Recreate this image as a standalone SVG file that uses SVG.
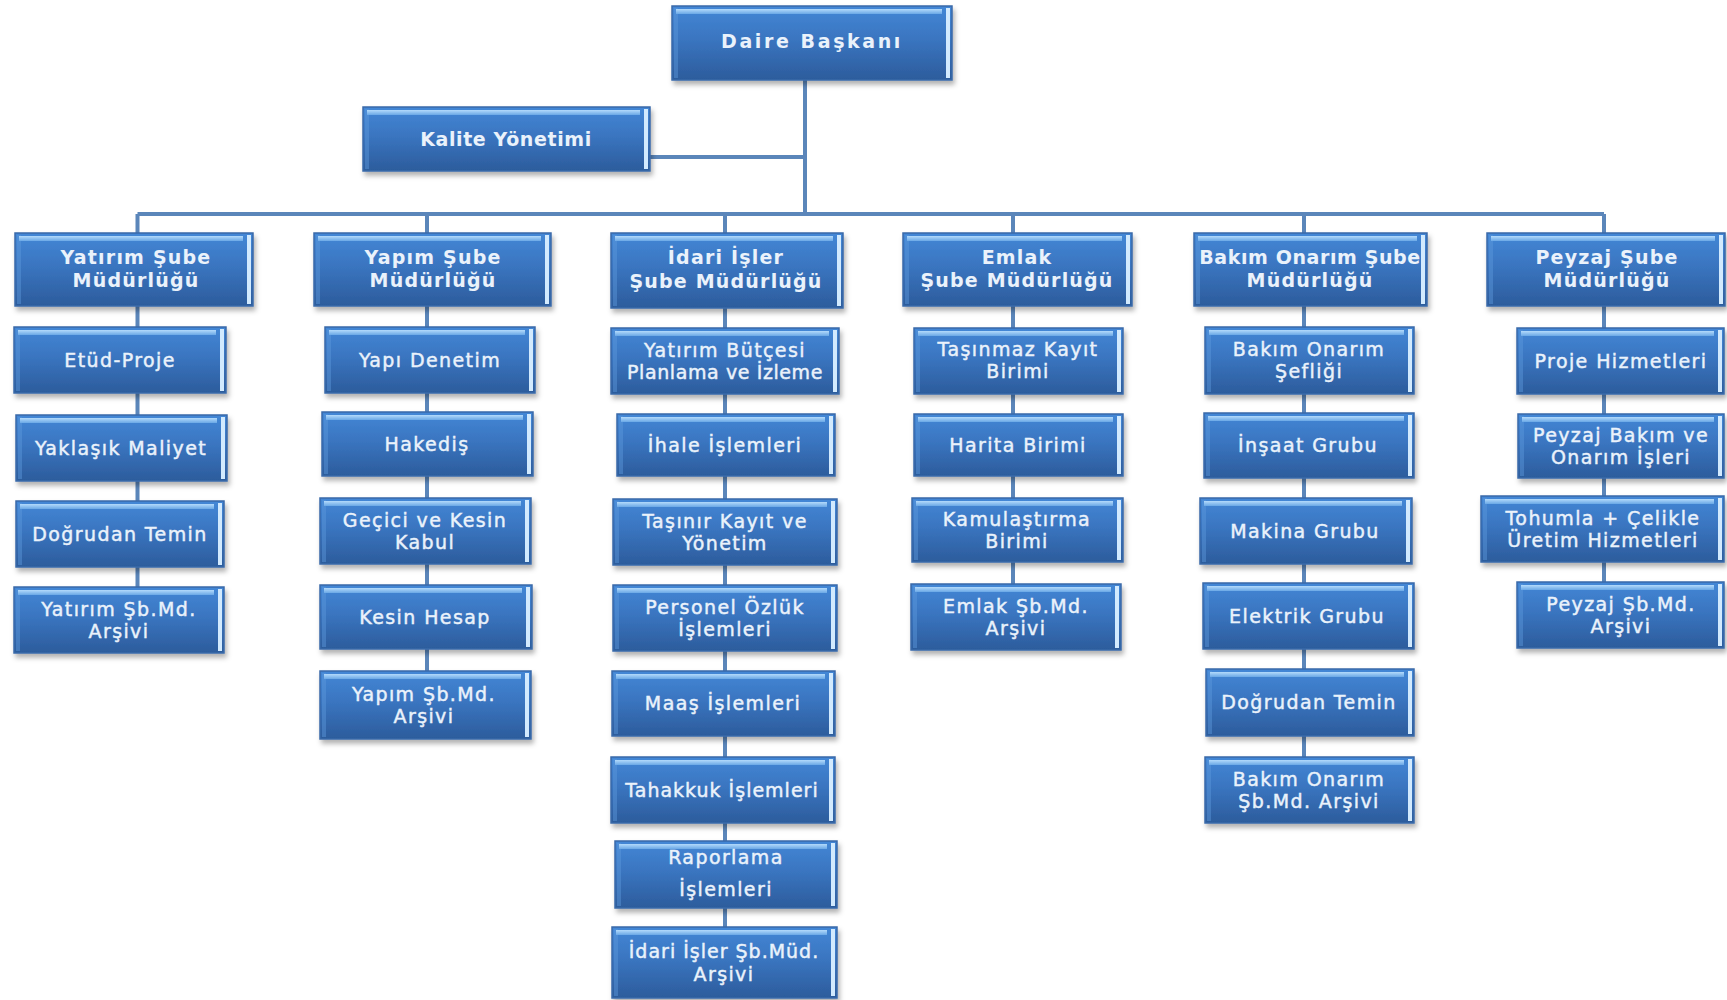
<svg xmlns="http://www.w3.org/2000/svg" width="1727" height="1000" viewBox="0 0 1727 1000">
<defs>
<linearGradient id="g" x1="0" y1="0" x2="0" y2="1">
<stop offset="0" stop-color="#4387d6"/>
<stop offset="0.45" stop-color="#3a75c0"/>
<stop offset="1" stop-color="#2c5c9c"/>
</linearGradient>
<linearGradient id="tg" x1="0" y1="0" x2="0" y2="1">
<stop offset="0" stop-color="#b3dafb"/>
<stop offset="1" stop-color="#6aa8e6"/>
</linearGradient>
<filter id="sh" x="-10%" y="-10%" width="125%" height="135%">
<feDropShadow dx="2" dy="4" stdDeviation="2.5" flood-color="#000" flood-opacity="0.3"/>
</filter>
<style>
.bx{fill:url(#g);stroke:#3a6aa9;stroke-width:1.5;filter:url(#sh)}
.tp{fill:url(#tg)}
.rt{fill:#d2eafe}
.lf{fill:#5e98dc;opacity:.45}
.t{font-family:"DejaVu Sans","Liberation Sans",sans-serif;font-size:19px;fill:#eaf2fb;stroke:#eaf2fb;stroke-width:0.45px;text-anchor:middle;letter-spacing:1.4px}
.b{font-weight:bold;stroke-width:0;letter-spacing:1.2px}
.cn{stroke:#5b86ba;stroke-width:4;fill:none}
</style>
</defs>
<rect width="1727" height="1000" fill="#ffffff"/>

<g id="connectors">
<path class="cn" d="M805 80V214M650 157H805M137.5 214H1604"/>
<path class="cn" d="M137.5 214V587M427 214V671M725 214V927M1013 214V584M1304 214V757M1604 214V582"/>
</g>

<g id="n-daire"><rect class="bx" x="672" y="6" width="280" height="74"/><rect class="lf" x="674" y="8" width="4" height="70"/><rect class="tp" x="676" y="9" width="266" height="5"/><rect class="rt" x="946" y="8" width="4" height="70"/><text class="t b" x="812" y="48" style="letter-spacing:2.6px">Daire Başkanı</text></g>
<g id="n-kalite"><rect class="bx" x="363" y="107" width="287" height="64"/><rect class="lf" x="365" y="109" width="4" height="60"/><rect class="tp" x="367" y="110" width="273" height="5"/><rect class="rt" x="644" y="109" width="4" height="60"/><text class="t b" x="506" y="146" style="letter-spacing:0.6px">Kalite Yönetimi</text></g>

<g id="h-yatirim"><rect class="bx" x="15" y="233" width="238" height="73"/><rect class="lf" x="17" y="235" width="4" height="69"/><rect class="tp" x="19" y="236" width="224" height="5"/><rect class="rt" x="247" y="235" width="4" height="69"/><text class="t b"><tspan x="136" y="264">Yatırım Şube</tspan><tspan x="136" y="287">Müdürlüğü</tspan></text></g>
<g id="h-yapim"><rect class="bx" x="314" y="233" width="237" height="73"/><rect class="lf" x="316" y="235" width="4" height="69"/><rect class="tp" x="318" y="236" width="223" height="5"/><rect class="rt" x="545" y="235" width="4" height="69"/><text class="t b"><tspan x="433" y="264">Yapım Şube</tspan><tspan x="433" y="287">Müdürlüğü</tspan></text></g>
<g id="h-idari"><rect class="bx" x="611" y="233" width="232" height="75"/><rect class="lf" x="613" y="235" width="4" height="71"/><rect class="tp" x="615" y="236" width="218" height="5"/><rect class="rt" x="837" y="235" width="4" height="71"/><text class="t b"><tspan x="726" y="264">İdari İşler</tspan><tspan x="726" y="288">Şube Müdürlüğü</tspan></text></g>
<g id="h-emlak"><rect class="bx" x="903" y="233" width="229" height="73"/><rect class="lf" x="905" y="235" width="4" height="69"/><rect class="tp" x="907" y="236" width="215" height="5"/><rect class="rt" x="1126" y="235" width="4" height="69"/><text class="t b"><tspan x="1017" y="264">Emlak</tspan><tspan x="1017" y="287">Şube Müdürlüğü</tspan></text></g>
<g id="h-bakim"><rect class="bx" x="1194" y="233" width="233" height="73"/><rect class="lf" x="1196" y="235" width="4" height="69"/><rect class="tp" x="1198" y="236" width="219" height="5"/><rect class="rt" x="1421" y="235" width="4" height="69"/><text class="t b"><tspan x="1310" y="264" style="letter-spacing:0.6px">Bakım Onarım Şube</tspan><tspan x="1310" y="287">Müdürlüğü</tspan></text></g>
<g id="h-peyzaj"><rect class="bx" x="1487" y="233" width="238" height="73"/><rect class="lf" x="1489" y="235" width="4" height="69"/><rect class="tp" x="1491" y="236" width="224" height="5"/><rect class="rt" x="1719" y="235" width="4" height="69"/><text class="t b"><tspan x="1607" y="264">Peyzaj Şube</tspan><tspan x="1607" y="287">Müdürlüğü</tspan></text></g>

<g id="c1-etud"><rect class="bx" x="14" y="327" width="212" height="66"/><rect class="lf" x="16" y="329" width="4" height="62"/><rect class="tp" x="18" y="330" width="198" height="5"/><rect class="rt" x="220" y="329" width="4" height="62"/><text class="t" x="120" y="367">Etüd-Proje</text></g>
<g id="c1-maliyet"><rect class="bx" x="16" y="415" width="211" height="66"/><rect class="lf" x="18" y="417" width="4" height="62"/><rect class="tp" x="20" y="418" width="197" height="5"/><rect class="rt" x="221" y="417" width="4" height="62"/><text class="t" x="121" y="455">Yaklaşık Maliyet</text></g>
<g id="c1-temin"><rect class="bx" x="16" y="501" width="208" height="66"/><rect class="lf" x="18" y="503" width="4" height="62"/><rect class="tp" x="20" y="504" width="194" height="5"/><rect class="rt" x="218" y="503" width="4" height="62"/><text class="t" x="120" y="541">Doğrudan Temin</text></g>
<g id="c1-arsiv"><rect class="bx" x="14" y="587" width="210" height="66"/><rect class="lf" x="16" y="589" width="4" height="62"/><rect class="tp" x="18" y="590" width="196" height="5"/><rect class="rt" x="218" y="589" width="4" height="62"/><text class="t"><tspan x="119" y="616">Yatırım Şb.Md.</tspan><tspan x="119" y="638">Arşivi</tspan></text></g>

<g id="c2-denetim"><rect class="bx" x="325" y="327" width="210" height="66"/><rect class="lf" x="327" y="329" width="4" height="62"/><rect class="tp" x="329" y="330" width="196" height="5"/><rect class="rt" x="529" y="329" width="4" height="62"/><text class="t" x="430" y="367">Yapı Denetim</text></g>
<g id="c2-hakedis"><rect class="bx" x="322" y="412" width="211" height="64"/><rect class="lf" x="324" y="414" width="4" height="60"/><rect class="tp" x="326" y="415" width="197" height="5"/><rect class="rt" x="527" y="414" width="4" height="60"/><text class="t" x="427" y="451">Hakediş</text></g>
<g id="c2-kabul"><rect class="bx" x="320" y="498" width="211" height="66"/><rect class="lf" x="322" y="500" width="4" height="62"/><rect class="tp" x="324" y="501" width="197" height="5"/><rect class="rt" x="525" y="500" width="4" height="62"/><text class="t"><tspan x="425" y="527">Geçici ve Kesin</tspan><tspan x="425" y="549">Kabul</tspan></text></g>
<g id="c2-hesap"><rect class="bx" x="320" y="585" width="212" height="64"/><rect class="lf" x="322" y="587" width="4" height="60"/><rect class="tp" x="324" y="588" width="198" height="5"/><rect class="rt" x="526" y="587" width="4" height="60"/><text class="t" x="425" y="624">Kesin Hesap</text></g>
<g id="c2-arsiv"><rect class="bx" x="320" y="671" width="211" height="68"/><rect class="lf" x="322" y="673" width="4" height="64"/><rect class="tp" x="324" y="674" width="197" height="5"/><rect class="rt" x="525" y="673" width="4" height="64"/><text class="t"><tspan x="424" y="701">Yapım Şb.Md.</tspan><tspan x="424" y="723">Arşivi</tspan></text></g>

<g id="c3-butce"><rect class="bx" x="611" y="328" width="228" height="66"/><rect class="lf" x="613" y="330" width="4" height="62"/><rect class="tp" x="615" y="331" width="214" height="5"/><rect class="rt" x="833" y="330" width="4" height="62"/><text class="t"><tspan x="725" y="357">Yatırım Bütçesi</tspan><tspan x="725" y="379" style="letter-spacing:0.6px">Planlama ve İzleme</tspan></text></g>
<g id="c3-ihale"><rect class="bx" x="617" y="414" width="218" height="62"/><rect class="lf" x="619" y="416" width="4" height="58"/><rect class="tp" x="621" y="417" width="204" height="5"/><rect class="rt" x="829" y="416" width="4" height="58"/><text class="t" x="725" y="452">İhale İşlemleri</text></g>
<g id="c3-tasinir"><rect class="bx" x="613" y="499" width="224" height="66"/><rect class="lf" x="615" y="501" width="4" height="62"/><rect class="tp" x="617" y="502" width="210" height="5"/><rect class="rt" x="831" y="501" width="4" height="62"/><text class="t"><tspan x="725" y="528">Taşınır Kayıt ve</tspan><tspan x="725" y="550">Yönetim</tspan></text></g>
<g id="c3-personel"><rect class="bx" x="613" y="585" width="224" height="66"/><rect class="lf" x="615" y="587" width="4" height="62"/><rect class="tp" x="617" y="588" width="210" height="5"/><rect class="rt" x="831" y="587" width="4" height="62"/><text class="t"><tspan x="725" y="614">Personel Özlük</tspan><tspan x="725" y="636">İşlemleri</tspan></text></g>
<g id="c3-maas"><rect class="bx" x="612" y="671" width="223" height="65"/><rect class="lf" x="614" y="673" width="4" height="61"/><rect class="tp" x="616" y="674" width="209" height="5"/><rect class="rt" x="829" y="673" width="4" height="61"/><text class="t" x="723" y="710">Maaş İşlemleri</text></g>
<g id="c3-tahakkuk"><rect class="bx" x="611" y="757" width="224" height="66"/><rect class="lf" x="613" y="759" width="4" height="62"/><rect class="tp" x="615" y="760" width="210" height="5"/><rect class="rt" x="829" y="759" width="4" height="62"/><text class="t" x="722" y="797" style="letter-spacing:1px">Tahakkuk İşlemleri</text></g>
<g id="c3-rapor"><rect class="bx" x="615" y="841" width="222" height="67"/><rect class="lf" x="617" y="843" width="4" height="63"/><rect class="tp" x="619" y="844" width="208" height="5"/><rect class="rt" x="831" y="843" width="4" height="63"/><text class="t"><tspan x="726" y="864">Raporlama</tspan><tspan x="726" y="896">İşlemleri</tspan></text></g>
<g id="c3-arsiv"><rect class="bx" x="612" y="927" width="225" height="71"/><rect class="lf" x="614" y="929" width="4" height="67"/><rect class="tp" x="616" y="930" width="211" height="5"/><rect class="rt" x="831" y="929" width="4" height="67"/><text class="t"><tspan x="724" y="958" style="letter-spacing:1px">İdari İşler Şb.Müd.</tspan><tspan x="724" y="981">Arşivi</tspan></text></g>

<g id="c4-tasinmaz"><rect class="bx" x="914" y="328" width="209" height="66"/><rect class="lf" x="916" y="330" width="4" height="62"/><rect class="tp" x="918" y="331" width="195" height="5"/><rect class="rt" x="1117" y="330" width="4" height="62"/><text class="t"><tspan x="1018" y="356">Taşınmaz Kayıt</tspan><tspan x="1018" y="378">Birimi</tspan></text></g>
<g id="c4-harita"><rect class="bx" x="914" y="414" width="209" height="62"/><rect class="lf" x="916" y="416" width="4" height="58"/><rect class="tp" x="918" y="417" width="195" height="5"/><rect class="rt" x="1117" y="416" width="4" height="58"/><text class="t" x="1018" y="452">Harita Birimi</text></g>
<g id="c4-kamulastirma"><rect class="bx" x="912" y="498" width="211" height="64"/><rect class="lf" x="914" y="500" width="4" height="60"/><rect class="tp" x="916" y="501" width="197" height="5"/><rect class="rt" x="1117" y="500" width="4" height="60"/><text class="t"><tspan x="1017" y="526">Kamulaştırma</tspan><tspan x="1017" y="548">Birimi</tspan></text></g>
<g id="c4-arsiv"><rect class="bx" x="911" y="584" width="210" height="66"/><rect class="lf" x="913" y="586" width="4" height="62"/><rect class="tp" x="915" y="587" width="196" height="5"/><rect class="rt" x="1115" y="586" width="4" height="62"/><text class="t"><tspan x="1016" y="613">Emlak Şb.Md.</tspan><tspan x="1016" y="635">Arşivi</tspan></text></g>

<g id="c5-seflik"><rect class="bx" x="1205" y="327" width="209" height="67"/><rect class="lf" x="1207" y="329" width="4" height="63"/><rect class="tp" x="1209" y="330" width="195" height="5"/><rect class="rt" x="1408" y="329" width="4" height="63"/><text class="t"><tspan x="1309" y="356">Bakım Onarım</tspan><tspan x="1309" y="378">Şefliği</tspan></text></g>
<g id="c5-insaat"><rect class="bx" x="1204" y="413" width="210" height="65"/><rect class="lf" x="1206" y="415" width="4" height="61"/><rect class="tp" x="1208" y="416" width="196" height="5"/><rect class="rt" x="1408" y="415" width="4" height="61"/><text class="t" x="1308" y="452">İnşaat Grubu</text></g>
<g id="c5-makina"><rect class="bx" x="1200" y="498" width="212" height="66"/><rect class="lf" x="1202" y="500" width="4" height="62"/><rect class="tp" x="1204" y="501" width="198" height="5"/><rect class="rt" x="1406" y="500" width="4" height="62"/><text class="t" x="1305" y="538">Makina Grubu</text></g>
<g id="c5-elektrik"><rect class="bx" x="1203" y="583" width="211" height="66"/><rect class="lf" x="1205" y="585" width="4" height="62"/><rect class="tp" x="1207" y="586" width="197" height="5"/><rect class="rt" x="1408" y="585" width="4" height="62"/><text class="t" x="1307" y="623">Elektrik Grubu</text></g>
<g id="c5-temin"><rect class="bx" x="1206" y="669" width="208" height="67"/><rect class="lf" x="1208" y="671" width="4" height="63"/><rect class="tp" x="1210" y="672" width="194" height="5"/><rect class="rt" x="1408" y="671" width="4" height="63"/><text class="t" x="1309" y="709">Doğrudan Temin</text></g>
<g id="c5-arsiv"><rect class="bx" x="1205" y="757" width="209" height="66"/><rect class="lf" x="1207" y="759" width="4" height="62"/><rect class="tp" x="1209" y="760" width="195" height="5"/><rect class="rt" x="1408" y="759" width="4" height="62"/><text class="t"><tspan x="1309" y="786">Bakım Onarım</tspan><tspan x="1309" y="808">Şb.Md. Arşivi</tspan></text></g>

<g id="c6-proje"><rect class="bx" x="1517" y="328" width="207" height="66"/><rect class="lf" x="1519" y="330" width="4" height="62"/><rect class="tp" x="1521" y="331" width="193" height="5"/><rect class="rt" x="1718" y="330" width="4" height="62"/><text class="t" x="1621" y="368">Proje Hizmetleri</text></g>
<g id="c6-bakim"><rect class="bx" x="1518" y="414" width="206" height="64"/><rect class="lf" x="1520" y="416" width="4" height="60"/><rect class="tp" x="1522" y="417" width="192" height="5"/><rect class="rt" x="1718" y="416" width="4" height="60"/><text class="t"><tspan x="1621" y="442">Peyzaj Bakım ve</tspan><tspan x="1621" y="464">Onarım İşleri</tspan></text></g>
<g id="c6-tohum"><rect class="bx" x="1481" y="496" width="243" height="66"/><rect class="lf" x="1483" y="498" width="4" height="62"/><rect class="tp" x="1485" y="499" width="229" height="5"/><rect class="rt" x="1718" y="498" width="4" height="62"/><text class="t"><tspan x="1603" y="525">Tohumla + Çelikle</tspan><tspan x="1603" y="547">Üretim Hizmetleri</tspan></text></g>
<g id="c6-arsiv"><rect class="bx" x="1517" y="582" width="207" height="66"/><rect class="lf" x="1519" y="584" width="4" height="62"/><rect class="tp" x="1521" y="585" width="193" height="5"/><rect class="rt" x="1718" y="584" width="4" height="62"/><text class="t"><tspan x="1621" y="611">Peyzaj Şb.Md.</tspan><tspan x="1621" y="633">Arşivi</tspan></text></g>
</svg>
